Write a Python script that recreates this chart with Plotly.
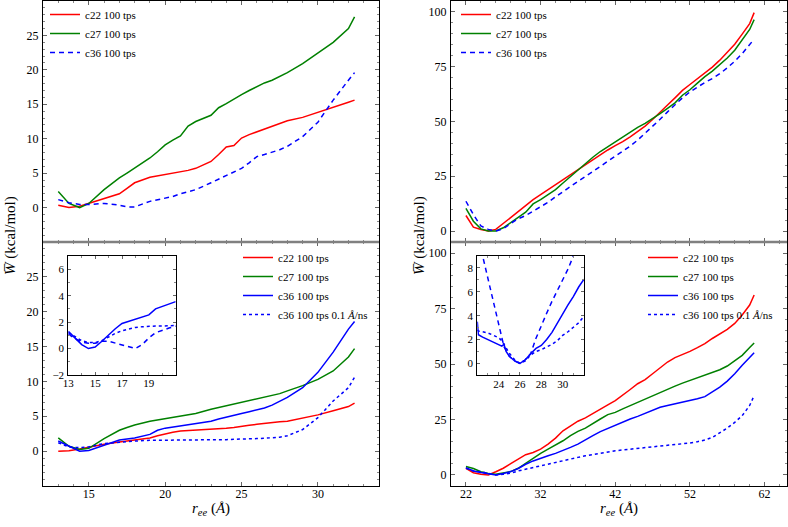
import plotly.graph_objects as go

# ---------------- data ----------------
# left column (short chain), r_ee in Angstrom
x_left = [13, 13.7, 14.4, 15, 16, 17, 17.5, 18, 19, 19.5, 20, 20.5, 21, 21.5, 22, 23,
          23.5, 24, 24.5, 25, 25.5, 26, 26.5, 27, 27.5, 28, 29, 30, 31, 32, 32.4]
lt_c22 = [0.35, 0.0, 0.2, 0.6, 1.25, 2.0, 2.8, 3.6, 4.4, 4.6, 4.8, 5.0, 5.15, 5.4, 5.7, 6.7,
          7.7, 8.8, 9.0, 10.1, 10.6, 11.0, 11.4, 11.8, 12.2, 12.6, 13.1, 13.8, 14.5, 15.3, 15.6]
lt_c27 = [2.35, 0.6, 0.0, 0.6, 2.6, 4.3, 5.0, 5.7, 7.2, 8.1, 9.1, 9.8, 10.4, 11.85, 12.5, 13.4,
          14.5, 15.1, 15.8, 16.4, 17.0, 17.6, 18.1, 18.5, 19.0, 19.6, 20.9, 22.4, 24.0, 26.0, 27.7]
lt_c36 = [1.15, 0.7, 0.45, 0.45, 0.6, 0.35, 0.1, 0.1, 0.9, 1.1, 1.3, 1.6, 2.0, 2.3, 2.6, 3.6,
          4.1, 4.7, 5.2, 5.7, 6.5, 7.4, 7.7, 8.0, 8.4, 8.9, 10.3, 12.4, 15.6, 18.5, 19.6]

lb_c22 = [0.0, 0.05, 0.3, 0.6, 1.0, 1.3, 1.45, 1.6, 1.9, 2.2, 2.5, 2.7, 2.9, 2.95, 3.0, 3.2,
          3.25, 3.3, 3.4, 3.5, 3.7, 3.85, 4.0, 4.1, 4.2, 4.3, 4.7, 5.2, 5.8, 6.4, 6.9]
lb_c27 = [1.9, 0.7, 0.25, 0.4, 1.8, 3.0, 3.4, 3.75, 4.3, 4.5, 4.6, 4.8, 5.0, 5.2, 5.4, 6.0,
          6.25, 6.5, 6.75, 7.0, 7.2, 7.45, 7.7, 7.9, 8.25, 8.65, 9.4, 10.3, 11.5, 13.5, 14.7]
lb_c36 = [1.45, 0.7, 0.0, 0.1, 0.8, 1.6, 1.75, 1.9, 2.4, 3.0, 3.3, 3.45, 3.6, 3.8, 4.0, 4.3,
          4.6, 4.9, 5.15, 5.4, 5.65, 5.9, 6.2, 6.6, 7.1, 7.7, 9.1, 11.3, 14.2, 17.5, 18.6]
lb_c36_slow = [1.2, 0.6, 0.5, 0.6, 1.1, 1.3, 1.4, 1.45, 1.55, 1.55, 1.55, 1.55, 1.55, 1.6, 1.6, 1.6,
               1.65, 1.65, 1.7, 1.7, 1.75, 1.8, 1.85, 1.9, 2.0, 2.2, 3.1, 4.8, 7.2, 9.1, 10.6]

x_inset_left = [13, 13.5, 14, 14.5, 15, 15.5, 16, 16.5, 17, 17.5, 18, 18.5, 19, 19.5, 20, 20.5, 21]
il_c36 = [1.3, 0.8, 0.3, 0.0, 0.12, 0.55, 1.05, 1.5, 1.9, 2.05, 2.25, 2.4, 2.55, 3.0, 3.2, 3.4, 3.55]
il_c36_dash = [1.1, 0.75, 0.5, 0.4, 0.4, 0.55, 0.55, 0.4, 0.3, 0.1, 0.0, 0.3, 0.8, 1.2, 1.4, 1.55, 1.7]
il_c36_slow = [1.2, 0.9, 0.6, 0.45, 0.45, 0.6, 0.9, 1.15, 1.35, 1.5, 1.6, 1.65, 1.7, 1.7, 1.7, 1.7, 1.75]

# right column (long chain)
x_right = [22, 23, 24, 25, 26, 27, 28, 29, 30, 31, 32, 33, 34, 35, 36, 37, 38, 39, 40, 41,
           42, 43, 44, 45, 46, 47, 48, 49, 50, 51, 52, 53, 54, 55, 56, 57, 58, 59, 60, 60.6]
rt_c22 = [7.1, 1.8, 0.75, 0.0, 0.75, 3.5, 6.0, 8.6, 11.3, 14.3, 16.6, 18.9, 21.1, 23.4, 25.7, 28.2,
          30.5, 32.5, 34.7, 37.0, 39.0, 40.8, 43.0, 45.3, 47.9, 50.9, 54.4, 57.5, 60.8, 64.2,
          66.9, 69.5, 72.0, 74.8, 78.0, 81.6, 85.3, 89.9, 94.7, 99.7]
rt_c27 = [10.3, 4.5, 1.0, 0.0, 0.0, 1.5, 3.8, 6.0, 8.6, 12.4, 14.3, 16.6, 18.9, 21.9, 24.9, 27.9,
          31.0, 33.7, 36.3, 38.5, 40.8, 43.0, 45.3, 47.3, 49.1, 51.2, 53.6, 56.0, 58.5, 62.0,
          64.5, 67.5, 70.5, 73.0, 76.0, 79.0, 82.5, 87.0, 92.0, 96.5]
rt_c36 = [13.6, 7.5, 2.3, 0.75, 0.0, 1.0, 3.5, 5.6, 7.1, 9.1, 11.0, 13.1, 15.6, 18.1, 20.4, 22.7,
          24.9, 27.2, 29.5, 31.7, 34.0, 36.3, 38.8, 41.5, 44.6, 47.8, 51.0, 54.4, 57.8, 60.8,
          63.5, 65.8, 67.8, 69.6, 71.8, 74.5, 77.5, 81.0, 85.0, 87.6]

rb_c22 = [3.0, 1.0, 0.3, 0.0, 1.4, 3.0, 5.1, 7.1, 9.1, 10.1, 11.6, 13.9, 16.6, 19.9, 22.2, 24.2,
          25.7, 27.8, 29.8, 31.6, 33.5, 35.8, 38.5, 41.1, 43.0, 45.6, 48.2, 50.9, 52.9, 54.2,
          55.7, 57.4, 59.2, 61.5, 63.4, 65.6, 68.3, 72.1, 76.6, 81.1]
rb_c27 = [3.8, 2.9, 1.4, 0.6, 0.3, 0.75, 1.5, 3.0, 5.3, 7.6, 9.7, 11.6, 13.4, 15.4, 17.7, 19.6,
          21.1, 23.0, 25.2, 27.2, 28.2, 29.8, 31.3, 32.8, 34.3, 35.8, 37.0, 38.5, 40.0, 41.4,
          42.6, 43.8, 44.9, 46.1, 47.4, 49.1, 51.4, 53.9, 57.4, 59.5]
rb_c36 = [3.3, 1.8, 1.1, 0.6, 0.0, 0.6, 1.5, 2.9, 4.8, 6.3, 7.6, 8.6, 9.7, 10.9, 12.4, 13.9,
          15.9, 17.7, 19.5, 21.0, 22.5, 23.7, 25.2, 26.4, 27.8, 29.0, 30.5, 31.3, 32.0, 32.8,
          33.5, 34.3, 35.3, 37.3, 39.6, 42.3, 45.6, 49.4, 52.9, 55.1]
rb_c36_slow = [3.0, 1.8, 1.4, 0.75, 0.0, 0.3, 0.75, 1.8, 2.6, 3.3, 4.1, 4.8, 5.6, 6.3, 7.1, 7.9,
               8.6, 9.2, 9.8, 10.4, 10.9, 11.25, 11.6, 12.0, 12.4, 12.6, 12.8, 13.2, 13.6, 14.0,
               14.4, 15.0, 15.7, 16.9, 18.9, 21.1, 23.7, 26.7, 31.3, 35.8]

x_inset_right = [22, 22.1, 22.5, 23, 23.5, 24, 24.3, 24.5, 24.7, 25, 25.5, 26, 26.5, 27, 27.5,
                 28, 28.5, 29, 29.5, 30, 30.5, 31, 31.5, 32]
ir_c36 = [3.5, 2.4, 2.2, 2.0, 1.8, 1.6, 1.45, 1.6, 1.0, 0.6, 0.2, 0.0, 0.3, 0.8, 1.25,
          1.5, 2.0, 2.6, 3.4, 4.2, 4.9, 5.6, 6.4, 7.05]
ir_c36_dash = [14.0, 12.5, 9.0, 7.1, 5.0, 3.1, 1.9, 1.4, 1.1, 0.6, 0.2, 0.0, 0.3, 0.8, 2.1,
               3.2, 4.2, 5.2, 6.1, 7.0, 7.9, 9.0, 10.2, 11.5]
ir_c36_slow = [2.8, 2.7, 2.65, 2.55, 2.35, 2.15, 1.9, 1.65, 1.3, 0.85, 0.3, 0.0, 0.2, 0.7, 1.0,
               1.15, 1.35, 1.6, 1.9, 2.35, 2.65, 3.0, 3.4, 3.95]

names = ["c22 100 tps", "c27 100 tps", "c36 100 tps", "c36 100 tps 0.1 <i>Å</i>/ns"]

# ---------------- styling ----------------
W, H = 788, 527
FONT = "Liberation Serif, Times New Roman, Times, serif"
RED, GREEN, BLUE = "#ff0000", "#008000", "#0000ff"
LW = 1.5
DASH = "5px,4px"


def px(v):
    return v / W


def py(v):
    return (H - v) / H


fig = go.Figure()


def add(x, y, color, dash, xa, ya, name=None, legend=None):
    fig.add_trace(go.Scatter(
        x=x, y=y, mode="lines", name=name,
        line=dict(color=color, width=LW, dash=dash),
        xaxis=xa, yaxis=ya,
        showlegend=name is not None,
        legend=legend if legend else "legend",
        hoverinfo="skip",
    ))


# left top
add(x_left, lt_c22, RED, "solid", "x", "y", names[0], "legend")
add(x_left, lt_c27, GREEN, "solid", "x", "y", names[1], "legend")
add(x_left, lt_c36, BLUE, DASH, "x", "y", names[2], "legend")
# left bottom
add(x_left, lb_c22, RED, "solid", "x2", "y2", names[0], "legend2")
add(x_left, lb_c27, GREEN, "solid", "x2", "y2", names[1], "legend2")
add(x_left, lb_c36, BLUE, "solid", "x2", "y2", names[2], "legend2")
add(x_left, lb_c36_slow, BLUE, "dot", "x2", "y2", names[3], "legend2")
# right top
add(x_right, rt_c22, RED, "solid", "x3", "y3", names[0], "legend3")
add(x_right, rt_c27, GREEN, "solid", "x3", "y3", names[1], "legend3")
add(x_right, rt_c36, BLUE, DASH, "x3", "y3", names[2], "legend3")
# right bottom
add(x_right, rb_c22, RED, "solid", "x4", "y4", names[0], "legend4")
add(x_right, rb_c27, GREEN, "solid", "x4", "y4", names[1], "legend4")
add(x_right, rb_c36, BLUE, "solid", "x4", "y4", names[2], "legend4")
add(x_right, rb_c36_slow, BLUE, "dot", "x4", "y4", names[3], "legend4")
# insets
add(x_inset_left, il_c36, BLUE, "solid", "x5", "y5")
add(x_inset_left, il_c36_dash, BLUE, DASH, "x5", "y5")
add(x_inset_left, il_c36_slow, BLUE, "dot", "x5", "y5")
add(x_inset_right, ir_c36, BLUE, "solid", "x6", "y6")
add(x_inset_right, ir_c36_dash, BLUE, DASH, "x6", "y6")
add(x_inset_right, ir_c36_slow, BLUE, "dot", "x6", "y6")


def axis(domain, rng, tickvals, mdtick, mtick0, anchor, labels=True, fs=12, tl=4, so=0):
    return dict(
        domain=domain, range=rng, anchor=anchor,
        tickmode="array", tickvals=tickvals,
        showticklabels=labels,
        ticks="inside", ticklen=tl, tickwidth=1, tickcolor="#666666",
        minor=dict(ticks="inside", ticklen=2, tickwidth=1, tickcolor="#888888",
                   dtick=mdtick, tick0=mtick0, showgrid=False),
        showline=True, linecolor="#000000", linewidth=1, mirror="ticks",
        showgrid=False, zeroline=False,
        tickfont=dict(family=FONT, size=fs, color="#000000"),
        ticklabelstandoff=so,
    )


LX = [px(43), px(379)]
RX = [px(451), px(787)]
TOP = [py(242), py(1)]
BOT = [py(486), py(242)]

fig.update_layout(
    xaxis=axis(LX, [12, 34], [15, 20, 25, 30], 1, 12, "y", labels=False),
    yaxis=axis(TOP, [-5, 30], [0, 5, 10, 15, 20, 25], 1, 0, "x", so=1),
    xaxis2=axis(LX, [12, 34], [15, 20, 25, 30], 1, 12, "y2", so=-3),
    yaxis2=axis(BOT, [-5, 30], [0, 5, 10, 15, 20, 25], 1, 0, "x2", so=1),
    xaxis3=axis(RX, [20, 65], [22, 32, 42, 52, 62], 2, 22, "y3", labels=False),
    yaxis3=axis(TOP, [-5, 105], [0, 25, 50, 75, 100], 5, 0, "x3", so=1),
    xaxis4=axis(RX, [20, 65], [22, 32, 42, 52, 62], 2, 22, "y4", so=-3),
    yaxis4=axis(BOT, [-5, 105], [0, 25, 50, 75, 100], 5, 0, "x4", so=1),
    xaxis5=axis([px(68.3), px(175.7)], [13, 21], [13, 15, 17, 19], 1, 13, "y5", fs=11, tl=3, so=-2),
    yaxis5=axis([py(375), py(256)], [-2, 7], [-2, 0, 2, 4, 6], 1, 0, "x5", fs=11, tl=3, so=1),
    xaxis6=axis([px(477.3), px(584)], [22, 32], [24, 26, 28, 30], 1, 22, "y6", fs=11, tl=3, so=-2),
    yaxis6=axis([py(375.3), py(256)], [-1, 9], [0, 2, 4, 6, 8], 1, 0, "x6", fs=11, tl=3, so=1),
)

legend_common = dict(
    font=dict(family=FONT, size=11, color="#000000"),
    bgcolor="rgba(0,0,0,0)", borderwidth=0, itemwidth=30,
    xanchor="left", yanchor="top", tracegroupgap=0,
)
fig.update_layout(
    legend=dict(x=px(45), y=py(0), **legend_common),
    legend2=dict(x=px(238), y=py(243), **legend_common),
    legend3=dict(x=px(456), y=py(0), **legend_common),
    legend4=dict(x=px(643), y=py(243), **legend_common),
)

ytitle = "<i>W\u0305</i> (kcal/mol)"
xtitle = "<i>r</i><sub><i>ee</i></sub> (<i>Å</i>)"
ann = []
for xx in (10, 419):
    ann.append(dict(text=ytitle, x=px(xx), y=py(236), xref="paper", yref="paper",
                    textangle=-90, showarrow=False, xanchor="center", yanchor="middle",
                    font=dict(family=FONT, size=15, color="#000000")))
for xx in (211, 619):
    ann.append(dict(text=xtitle, x=px(xx), y=py(509), xref="paper", yref="paper",
                    showarrow=False, xanchor="center", yanchor="middle",
                    font=dict(family=FONT, size=15, color="#000000")))

shapes = []
for x0, x1 in ((43, 379), (451, 787)):
    shapes.append(dict(type="line", xref="paper", yref="paper",
                       x0=px(x0), x1=px(x1), y0=py(242), y1=py(242),
                       line=dict(color="#808080", width=2.5), layer="above"))

fig.update_layout(
    width=W, height=H,
    margin=dict(l=0, r=0, t=0, b=0, autoexpand=False),
    paper_bgcolor="#ffffff", plot_bgcolor="#ffffff",
    annotations=ann, shapes=shapes,
    font=dict(family=FONT, color="#000000"),
)

fig.write_html("out.html", config={"displayModeBar": False},
               post_script="document.body.style.margin='0';document.body.style.overflow='hidden';")
